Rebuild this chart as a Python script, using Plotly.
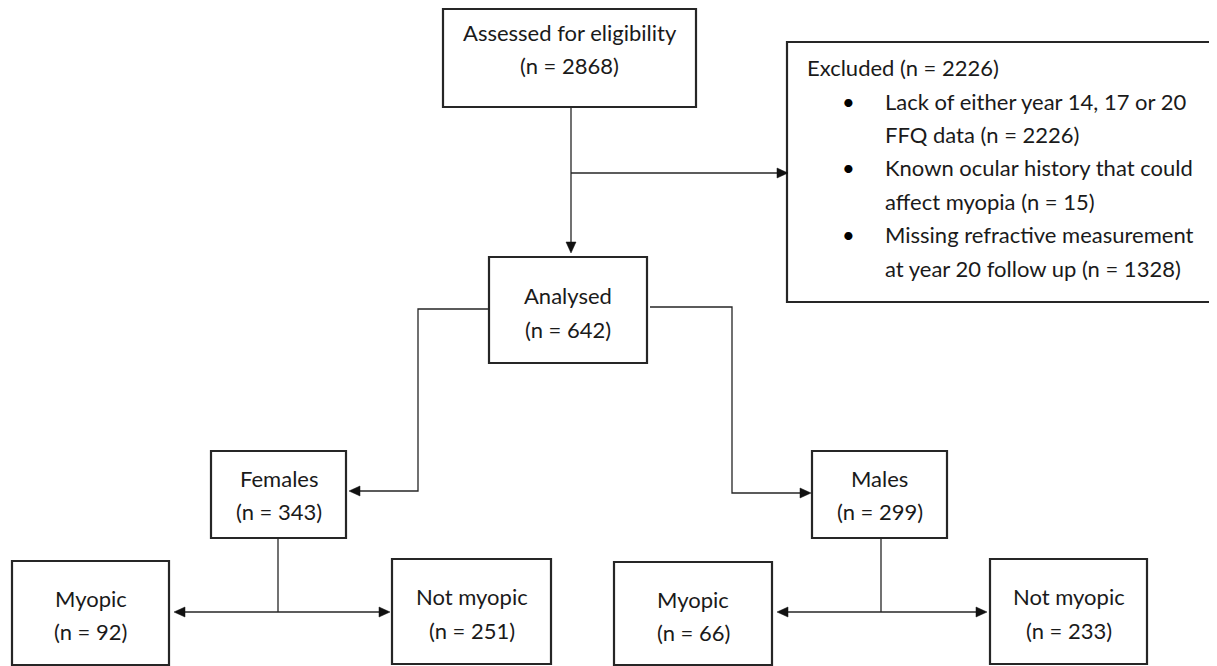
import plotly.graph_objects as go

# ---- data ----
node_names = ["Assessed for eligibility", "Analysed", "Females", "Males",
              "Myopic", "Not myopic", "Myopic", "Not myopic"]
node_counts = [2868, 642, 343, 299, 92, 251, 66, 233]
excluded_total = 2226
excluded_reasons = ["Lack of either year 14, 17 or 20", "FFQ data (n = 2226)",
                    "Known ocular history that could", "affect myopia (n = 15)",
                    "Missing refractive measurement", "at year 20 follow up (n = 1328)"]
bullet_starts = [True, False, True, False, True, False]

# ---- layout (pixel geometry, page coordinates) ----
W, H = 1217, 666
OFF = 8  # default page body margin
boxes = [  # x0, y0, x1, y1
    (443, 9, 696, 107),
    (489, 257, 647, 363),
    (211, 451, 346, 538),
    (812, 451, 947, 538),
    (12, 561, 169, 665),
    (392, 559, 551, 664),
    (614, 562, 772, 665),
    (990, 559, 1147, 664),
]
excl_box = (787, 42, 1260, 302)

FONT = "Lato"
FS = 22
TXT = "#1a1a1a"
LINE = "#262626"

shapes = []
annotations = []

def line(pts, w=1.3, color=LINE):
    path = "M " + " L ".join(f"{x},{y}" for x, y in pts)
    shapes.append(dict(type="path", path=path, xref="x", yref="y",
                       line=dict(color=color, width=w)))

def arrow_head(x, y, direction, L=11, Wd=5):
    if direction == "right":
        pts = [(x, y), (x - L, y - Wd), (x - L, y + Wd)]
    elif direction == "left":
        pts = [(x, y), (x + L, y - Wd), (x + L, y + Wd)]
    else:  # down
        pts = [(x, y), (x - Wd, y - L), (x + Wd, y - L)]
    path = "M " + " L ".join(f"{a},{b}" for a, b in pts) + " Z"
    shapes.append(dict(type="path", path=path, xref="x", yref="y",
                       fillcolor="#111", line=dict(color="#111", width=0.5)))

# boxes
for (x0, y0, x1, y1) in boxes:
    shapes.append(dict(type="rect", x0=x0, y0=y0, x1=x1, y1=y1, xref="x", yref="y",
                       line=dict(color=LINE, width=2.2), fillcolor="rgba(0,0,0,0)"))
# excluded box (right edge runs off the page)
ex0, ey0, ex1, ey1 = excl_box
line([(ex1, ey0), (ex0, ey0), (ex0, ey1), (ex1, ey1)], w=2.2)

# box labels
for (name, n), (x0, y0, x1, y1) in zip(zip(node_names, node_counts), boxes):
    cx = (x0 + x1) / 2
    h = y1 - y0
    if h > 95:
        ya, yb = y0 + 0.36 * h, y0 + 0.68 * h
    else:
        ya, yb = y0 + 0.32 * h, y0 + 0.69 * h
    if name == "Assessed for eligibility":
        ya, yb = 32, 65
    annotations.append(dict(x=cx, y=ya, text=name, showarrow=False, xref="x", yref="y",
                            font=dict(family=FONT, size=FS, color=TXT)))
    annotations.append(dict(x=cx, y=yb, text=f"(n = {n})", showarrow=False, xref="x", yref="y",
                            font=dict(family=FONT, size=FS, color=TXT)))

# excluded text
annotations.append(dict(x=805, y=67, text=f"Excluded (n = {excluded_total})", showarrow=False,
                        xref="x", yref="y", xanchor="left",
                        font=dict(family=FONT, size=FS, color=TXT)))
for i, (t, b) in enumerate(zip(excluded_reasons, bullet_starts)):
    yy = 101 + 33.4 * i
    annotations.append(dict(x=883, y=yy, text=t, showarrow=False, xref="x", yref="y",
                            xanchor="left", font=dict(family=FONT, size=FS, color=TXT)))
    if b:
        annotations.append(dict(x=848, y=yy, text="\u2022", showarrow=False, xref="x", yref="y",
                                font=dict(family=FONT, size=FS, color="#000")))

# connectors
A, An, F, M, FM, FN, MM, MN = boxes
vx = 571
line([(vx, A[3]), (vx, An[1] - 10)])
arrow_head(vx, An[1] - 4, "down")
line([(vx, 173), (ex0 - 9, 173)])
arrow_head(ex0 + 1, 173, "right")
line([(An[0], 309), (418, 309), (418, 491), (F[2] + 10, 491)])
arrow_head(F[2] + 3, 491, "left")
line([(An[2] + 3, 307), (732, 307), (732, 493), (M[0] - 10, 493)])
arrow_head(M[0] - 1, 493, "right")
fx = 278
line([(fx, F[3]), (fx, 612)])
line([(FM[2] + 12, 612), (FN[0] - 10, 612)])
arrow_head(FM[2] + 5, 612, "left")
arrow_head(FN[0] - 2, 612, "right")
mx = 881
line([(mx, M[3]), (mx, 612)])
line([(MM[2] + 12, 612), (MN[0] - 10, 612)])
arrow_head(MM[2] + 5, 612, "left")
arrow_head(MN[0] - 3, 612, "right")

fig = go.Figure()
fig.update_layout(
    width=W - OFF, height=H - OFF, margin=dict(l=0, r=0, t=0, b=0),
    paper_bgcolor="white", plot_bgcolor="white",
    xaxis=dict(range=[OFF, W], visible=False, fixedrange=True),
    yaxis=dict(range=[H, OFF], visible=False, fixedrange=True),
    shapes=shapes, annotations=annotations, showlegend=False,
)
fig.write_html("out.html", config={"displayModeBar": False})
